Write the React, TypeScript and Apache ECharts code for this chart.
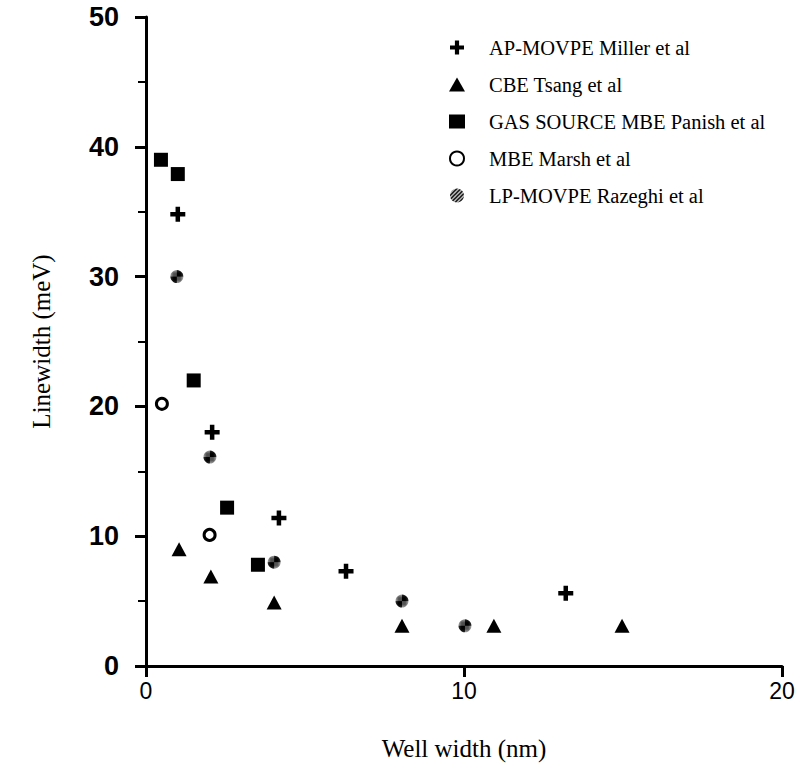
import React, { useEffect, useRef } from "react";
import * as echarts from "echarts";

const seriesNames = [
  "AP-MOVPE Miller et al",
  "CBE Tsang et al",
  "GAS SOURCE MBE Panish et al",
  "MBE Marsh et al",
  "LP-MOVPE Razeghi et al",
];

const apMovpe: [number, number][] = [
  [1.0, 34.8],
  [2.08, 18.0],
  [4.18, 11.4],
  [6.29, 7.3],
  [13.2, 5.6],
];
const cbe: [number, number][] = [
  [1.04, 9.0],
  [2.04, 6.9],
  [4.03, 4.9],
  [8.05, 3.1],
  [10.94, 3.1],
  [14.97, 3.1],
];
const gasSource: [number, number][] = [
  [0.47, 39.0],
  [1.0, 37.9],
  [1.5, 22.0],
  [2.55, 12.2],
  [3.52, 7.8],
];
const mbeMarsh: [number, number][] = [
  [0.5, 20.2],
  [2.0, 10.1],
];
const lpMovpe: [number, number][] = [
  [0.97, 30.0],
  [2.01, 16.1],
  [4.03, 8.0],
  [8.05, 5.0],
  [10.03, 3.1],
];

const xTicks = [0, 10, 20];
const yTicks = [0, 10, 20, 30, 40, 50];

const PLUS = "path://M3.5,0h3v3.5h3.5v3h-3.5v3.5h-3v-3.5h-3.5v-3h3.5z";

function makeHatch(): HTMLCanvasElement {
  const c = document.createElement("canvas");
  c.width = 4;
  c.height = 4;
  const g = c.getContext("2d")!;
  g.fillStyle = "#fff";
  g.fillRect(0, 0, 4, 4);
  g.strokeStyle = "#000";
  g.lineWidth = 1.6;
  g.beginPath();
  g.moveTo(-1, 5);
  g.lineTo(5, -1);
  g.moveTo(-1, 1);
  g.lineTo(1, -1);
  g.moveTo(3, 5);
  g.lineTo(5, 3);
  g.stroke();
  return c;
}

export default function App() {
  const ref = useRef<HTMLDivElement>(null);
  useEffect(() => {
    if (!ref.current) return;
    const chart = echarts.init(ref.current, undefined, { renderer: "svg" });
    const serif = "Liberation Serif";
    const sans = "Liberation Sans";
    const hatch = makeHatch();
    chart.setOption({
      animation: false,
      backgroundColor: "#ffffff",
      grid: { left: 146, right: 27, top: 17, bottom: 109 },
      legend: {
        orient: "vertical",
        left: 444,
        top: 32,
        itemGap: 16,
        itemWidth: 16,
        itemHeight: 14,
        data: seriesNames,
        textStyle: { fontFamily: serif, fontSize: 20.5, color: "#000", padding: [0, 0, 0, 19] },
      },
      xAxis: {
        type: "value",
        min: 0,
        max: 20,
        interval: 10,
        name: "Well width (nm)",
        nameLocation: "middle",
        nameGap: 70,
        nameTextStyle: { fontFamily: serif, fontSize: 25, color: "#000" },
        axisLine: { show: true, onZero: false, lineStyle: { color: "#000", width: 3 } },
        axisTick: { show: true, length: 11, lineStyle: { color: "#000", width: 3 } },
        axisLabel: {
          fontFamily: sans,
          fontSize: 23,
          color: "#000",
          margin: 13,
          formatter: (v: number) => (xTicks.includes(v) ? String(v) : ""),
        },
        splitLine: { show: false },
      },
      yAxis: {
        type: "value",
        min: 0,
        max: 50,
        interval: 10,
        name: "Linewidth (meV)",
        nameLocation: "middle",
        nameGap: 92,
        nameTextStyle: { fontFamily: serif, fontSize: 25, color: "#000" },
        axisLine: { show: true, onZero: false, lineStyle: { color: "#000", width: 3 } },
        axisTick: { show: true, length: 11, lineStyle: { color: "#000", width: 3 } },
        minorTick: { show: true, splitNumber: 2, length: 8, lineStyle: { color: "#000", width: 2 } },
        axisLabel: {
          fontFamily: sans,
          fontSize: 27,
          fontWeight: "bold",
          color: "#000",
          margin: 27,
          formatter: (v: number) => (yTicks.includes(v) ? String(v) : ""),
        },
        splitLine: { show: false },
      },
      series: [
        {
          name: seriesNames[0],
          type: "scatter",
          data: apMovpe,
          symbol: PLUS,
          symbolSize: 15,
          itemStyle: { color: "#000", opacity: 1 },
        },
        {
          name: seriesNames[1],
          type: "scatter",
          data: cbe,
          symbol: "triangle",
          symbolSize: [15, 14],
          itemStyle: { color: "#000", opacity: 1 },
        },
        {
          name: seriesNames[2],
          type: "scatter",
          data: gasSource,
          symbol: "rect",
          symbolSize: 14,
          itemStyle: { color: "#000", opacity: 1 },
        },
        {
          name: seriesNames[3],
          type: "scatter",
          data: mbeMarsh,
          symbol: "circle",
          symbolSize: 11,
          itemStyle: { color: "#fff", borderColor: "#000", borderWidth: 3, opacity: 1 },
        },
        {
          name: seriesNames[4],
          type: "scatter",
          data: lpMovpe,
          symbol: "circle",
          symbolSize: 13,
          itemStyle: {
            color: { image: hatch, repeat: "repeat" },
            opacity: 1,
          },
        },
      ],
    });
    return () => chart.dispose();
  }, []);
  return (
    <div
      ref={ref}
      style={{ position: "absolute", left: 0, top: 0, width: 809, height: 775, background: "#fff" }}
    />
  );
}
